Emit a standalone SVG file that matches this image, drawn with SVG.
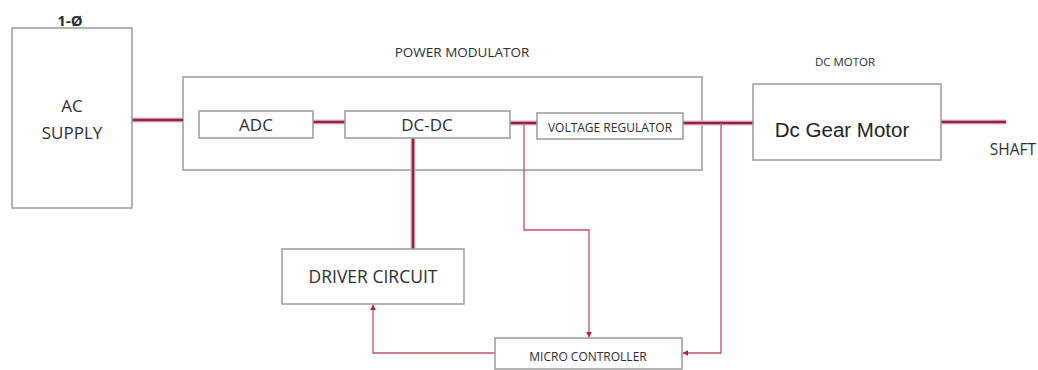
<svg xmlns="http://www.w3.org/2000/svg" width="1038" height="370" viewBox="0 0 1038 370">
<defs>
<style>
.box{fill:#fff;stroke:#9a9a9a;stroke-width:1.5}
.frame{fill:none;stroke:#9a9a9a;stroke-width:1.5}
.t{font-family:"Open Sans","Liberation Sans",sans-serif;fill:#2e2e2e;text-anchor:middle}
.glow{fill:none;stroke:#e8b8c6;stroke-width:5}
.thick{fill:none;stroke:#8e2446;stroke-width:2.6}
.thin{fill:none;stroke:#c4506c;stroke-width:1.3}
</style>
<marker id="ah" viewBox="0 0 10 10" refX="9" refY="5" markerWidth="6" markerHeight="6" orient="auto" markerUnits="userSpaceOnUse">
<path d="M0,0 L10,5 L0,10 z" fill="#c01840"/>
</marker>
</defs>
<rect width="1038" height="370" fill="#fff"/>

<g id="power-modulator">
<rect class="frame" x="183" y="77" width="519" height="93"/>
<text class="t" x="462" y="57" font-size="13.5">POWER MODULATOR</text>
</g>

<g id="connectors">
<path class="glow" d="M132,120 H183 M313,122 H345 M510,123 H537 M683,123 H753 M941,122 H1006 M413,138 V249"/>
<path class="thick" d="M132,120 H183 M313,122 H345 M510,123 H537 M683,123 H753 M941,122 H1006 M413,138 V249"/>
<path class="thin" d="M524,123 V230 H589 V337" marker-end="url(#ah)"/>
<path class="thin" d="M721,123 V353 H683" marker-end="url(#ah)"/>
<path class="thin" d="M495,353 H373 V305" marker-end="url(#ah)"/>
</g>

<g id="ac-supply">
<rect class="box" x="12" y="28" width="120" height="180"/>
<text class="t" x="70" y="26" font-size="15" font-weight="bold">1-Ø</text>
<text class="t" x="72" y="112" font-size="17">AC</text>
<text class="t" x="72" y="139" font-size="17">SUPPLY</text>
</g>

<g id="adc">
<rect class="box" x="199" y="111" width="114" height="27"/>
<text class="t" x="256" y="131" font-size="17">ADC</text>
</g>

<g id="dc-dc">
<rect class="box" x="345" y="111" width="165" height="27"/>
<text class="t" x="427" y="131" font-size="17">DC-DC</text>
</g>

<g id="voltage-regulator">
<rect class="box" x="537" y="113" width="146" height="26"/>
<text class="t" x="610" y="132" font-size="12">VOLTAGE REGULATOR</text>
</g>

<g id="dc-motor">
<rect class="box" x="753" y="84" width="188" height="76"/>
<text class="t" x="845" y="66" font-size="11.5">DC MOTOR</text>
<text x="842" y="137" font-size="20.5" font-family="'Liberation Sans',Arial,sans-serif" fill="#222" text-anchor="middle">Dc Gear Motor</text>
</g>

<g id="shaft">
<text class="t" x="1013" y="155" font-size="15.5">SHAFT</text>
</g>

<g id="driver-circuit">
<rect class="box" x="282" y="249" width="182" height="55"/>
<text class="t" x="373" y="283" font-size="17.5">DRIVER CIRCUIT</text>
</g>

<g id="micro-controller">
<rect class="box" x="495" y="338" width="187" height="31"/>
<text class="t" x="588" y="361" font-size="12">MICRO CONTROLLER</text>
</g>
</svg>
